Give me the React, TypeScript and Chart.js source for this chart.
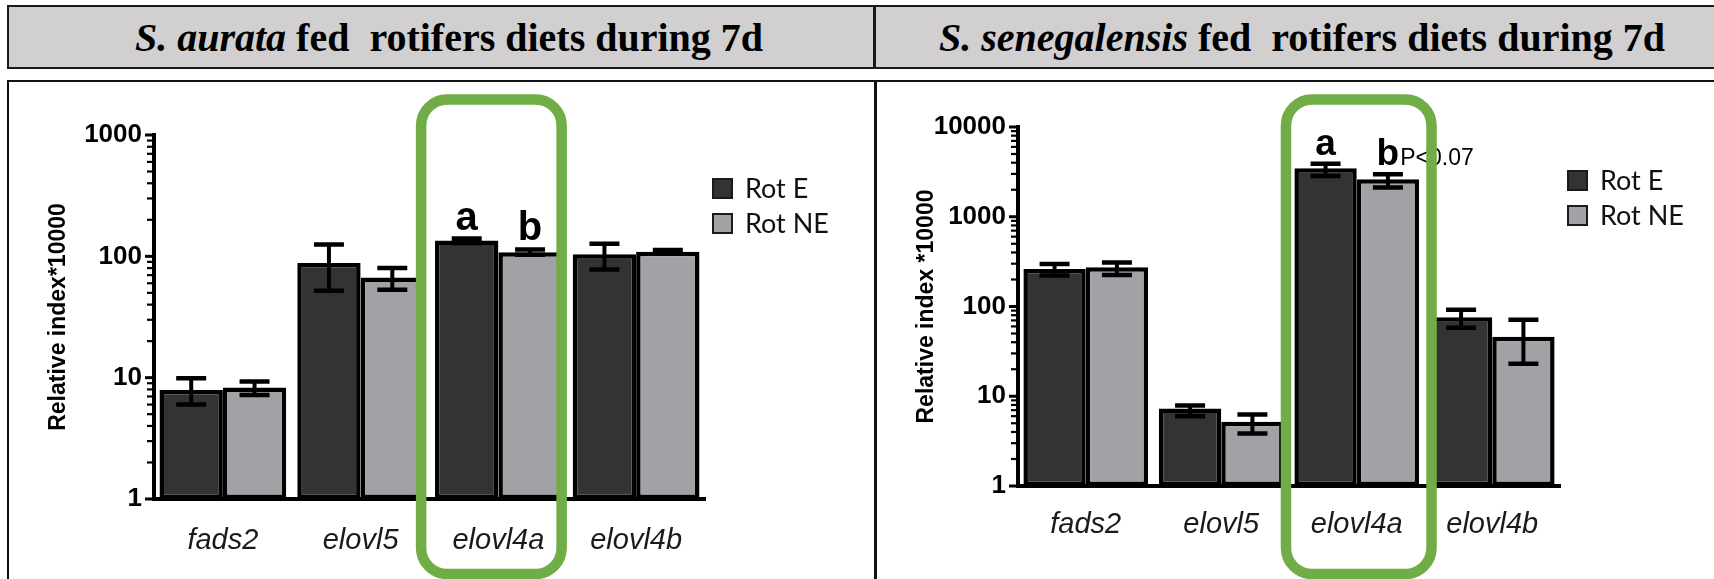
import React, { useEffect, useRef } from "react";
import { Chart, registerables } from "chart.js";

Chart.register(...registerables);

// ---------- data ----------
const categories = ["fads2", "elovl5", "elovl4a", "elovl4b"];
const seriesNames = ["Rot E", "Rot NE"];

// S. aurata
const aurataRotE = [7.9, 88, 135, 104];
const aurataRotELow = [6.0, 52, 129, 78];
const aurataRotEHigh = [9.9, 125, 140, 127];
const aurataRotNE = [8.3, 67, 108, 109];
const aurataRotNELow = [7.2, 53, 103, 105];
const aurataRotNEHigh = [9.3, 80, 114, 113];
const aurataTicks = [1, 10, 100, 1000];
const aurataMarksE = [null, null, "a", null];
const aurataMarksNE = [null, null, "b", null];
const aurataNotesNE = [null, null, null, null];

// S. senegalensis
const seneRotE = [262, 7.3, 3470, 76];
const seneRotELow = [221, 6.0, 2850, 58];
const seneRotEHigh = [298, 7.9, 3900, 92];
const seneRotNE = [273, 5.2, 2620, 46];
const seneRotNELow = [225, 3.85, 2120, 23];
const seneRotNEHigh = [310, 6.25, 2980, 71];
const seneTicks = [1, 10, 100, 1000, 10000];
const seneMarksE = [null, null, "a", null];
const seneMarksNE = [null, null, "b", null];
const seneNotesNE = [null, null, "P<0.07", null];

const FONT = "'Liberation Sans', Arial, sans-serif";
const DARK = "#333333";
const LIGHT = "#a2a2a6";
const GREEN = "#70ad47";

// ---------- plugins ----------
const logTicksPlugin = {
  id: "logTickMarks",
  afterDraw(chart: any, _a: any, o: any) {
    const s = chart.scales.y;
    const ctx = chart.ctx;
    const x0 = chart.chartArea.left;
    ctx.save();
    ctx.strokeStyle = "#000";
    s.ticks.forEach((t: any) => {
      const y = s.getPixelForValue(t.value);
      const major = o.majors.includes(t.value);
      ctx.lineWidth = major ? 3 : 2.2;
      ctx.beginPath();
      ctx.moveTo(x0 - 1, y);
      ctx.lineTo(x0 - (major ? 9 : 7), y);
      ctx.stroke();
    });
    ctx.restore();
  },
};

const errorBarPlugin = {
  id: "errorBars",
  afterDatasetsDraw(chart: any, _a: any, o: any) {
    const ctx = chart.ctx;
    const ys = chart.scales.y;
    chart.data.datasets.forEach((ds: any, di: number) => {
      const meta = chart.getDatasetMeta(di);
      meta.data.forEach((bar: any, i: number) => {
        const x = bar.x;
        const yl = ys.getPixelForValue(ds.errLow[i]);
        const yh = ys.getPixelForValue(ds.errHigh[i]);
        ctx.save();
        ctx.strokeStyle = "#000";
        ctx.lineWidth = o.stem;
        ctx.beginPath();
        ctx.moveTo(x, yl);
        ctx.lineTo(x, yh);
        ctx.stroke();
        ctx.lineWidth = o.capThick;
        ctx.beginPath();
        ctx.moveTo(x - o.cap / 2, yh);
        ctx.lineTo(x + o.cap / 2, yh);
        ctx.moveTo(x - o.cap / 2, yl);
        ctx.lineTo(x + o.cap / 2, yl);
        ctx.stroke();
        ctx.restore();
      });
    });
  },
};

const marksPlugin = {
  id: "sigMarks",
  afterDatasetsDraw(chart: any, _a: any, o: any) {
    const ctx = chart.ctx;
    const ys = chart.scales.y;
    chart.data.datasets.forEach((ds: any, di: number) => {
      const meta = chart.getDatasetMeta(di);
      meta.data.forEach((bar: any, i: number) => {
        const m = ds.marks ? ds.marks[i] : null;
        if (!m) return;
        const y = ys.getPixelForValue(ds.errHigh[i]) - o.gap;
        ctx.save();
        ctx.fillStyle = "#000";
        ctx.font = `bold ${o.size}px ${FONT}`;
        ctx.textAlign = "center";
        ctx.textBaseline = "alphabetic";
        ctx.fillText(m, bar.x, y);
        const note = ds.notes ? ds.notes[i] : null;
        if (note) {
          const w = ctx.measureText(m).width;
          ctx.font = `${o.noteSize}px ${FONT}`;
          ctx.textAlign = "left";
          ctx.fillText(note, bar.x + w / 2 + 1, y);
        }
        ctx.restore();
      });
    });
  },
};

const legendPlugin = {
  id: "sideLegend",
  afterDraw(chart: any, _a: any, o: any) {
    const ctx = chart.ctx;
    const { right, top } = chart.chartArea;
    chart.data.datasets.forEach((ds: any, i: number) => {
      const x = right + o.dx;
      const y = top + o.dy + i * o.gap;
      ctx.save();
      ctx.fillStyle = ds.backgroundColor;
      ctx.fillRect(x, y, 21, 21);
      ctx.strokeStyle = "#1a1a1a";
      ctx.lineWidth = 2;
      ctx.strokeRect(x + 1, y + 1, 19, 19);
      ctx.fillStyle = "#111";
      ctx.font = `${o.size}px Lato, 'Open Sans', sans-serif`;
      ctx.textAlign = "left";
      ctx.textBaseline = "middle";
      ctx.fillText(ds.label, x + 33, y + 11);
      ctx.restore();
    });
  },
};

const highlightPlugin = {
  id: "highlightBox",
  afterDraw(chart: any, _a: any, o: any) {
    const ctx = chart.ctx;
    const xs = chart.scales.x;
    const cw = (xs.right - xs.left) / chart.data.labels.length;
    const cx = xs.getPixelForValue(o.index) + o.dx;
    const half = cw * o.halfFrac;
    const top = o.top;
    const bottom = chart.height - o.bottomInset;
    ctx.save();
    ctx.strokeStyle = GREEN;
    ctx.lineWidth = o.width;
    ctx.beginPath();
    (ctx as any).roundRect(cx - half, top, half * 2, bottom - top, o.radius);
    ctx.stroke();
    ctx.restore();
  },
};

// ---------- chart panel ----------
type PanelProps = {
  width: number;
  height: number;
  rotE: number[];
  rotELow: number[];
  rotEHigh: number[];
  rotNE: number[];
  rotNELow: number[];
  rotNEHigh: number[];
  majors: number[];
  marksE: (string | null)[];
  marksNE: (string | null)[];
  notesNE: (string | null)[];
  yTitle: string;
  pad: { left: number; right: number; top: number; bottom: number };
  titlePad: number;
  xPad: number;
  markSize: number;
  hlDx: number;
  hlHalf: number;
};

function Panel(p: PanelProps) {
  const ref = useRef<HTMLCanvasElement>(null);
  useEffect(() => {
    if (!ref.current) return;
    const majors = p.majors;
    const chart = new Chart(ref.current, {
      type: "bar",
      data: {
        labels: categories,
        datasets: [
          {
            label: seriesNames[0],
            data: p.rotE,
            backgroundColor: DARK,
            borderColor: "#000",
            borderWidth: 4.5,
            borderSkipped: false,
            errLow: p.rotELow,
            errHigh: p.rotEHigh,
            marks: p.marksE,
          } as any,
          {
            label: seriesNames[1],
            data: p.rotNE,
            backgroundColor: LIGHT,
            borderColor: "#000",
            borderWidth: 4.5,
            borderSkipped: false,
            errLow: p.rotNELow,
            errHigh: p.rotNEHigh,
            marks: p.marksNE,
            notes: p.notesNE,
          } as any,
        ],
      },
      options: {
        responsive: false,
        animation: false,
        devicePixelRatio: 1,
        layout: { padding: p.pad },
        datasets: { bar: { categoryPercentage: 0.92, barPercentage: 1 } },
        plugins: {
          legend: { display: false },
          tooltip: { enabled: false },
          title: { display: false },
          logTickMarks: { majors },
          errorBars: { stem: 4, capThick: 4.5, cap: 30 },
          sigMarks: { size: p.markSize, gap: 9, noteSize: 23 },
          sideLegend: { dx: 7, dy: 43, gap: 35, size: 27 },
          highlightBox: {
            index: 2,
            dx: p.hlDx,
            halfFrac: p.hlHalf,
            top: 18.5,
            bottomInset: 5,
            width: 10.5,
            radius: 26,
          },
        } as any,
        scales: {
          x: {
            type: "category",
            grid: { display: false },
            border: { display: true, color: "#000", width: 4 },
            ticks: {
              color: "#1a1a1a",
              padding: p.xPad,
              font: { family: FONT, size: 29, style: "italic" },
              maxRotation: 0,
              autoSkip: false,
            },
            afterFit: (s: any) => {
              s.height = 60;
            },
          },
          y: {
            type: "logarithmic",
            min: majors[0],
            max: majors[majors.length - 1],
            grid: { display: false },
            border: { display: true, color: "#000", width: 4 },
            afterBuildTicks: (s: any) => {
              const out: any[] = [];
              majors.forEach((d, i) => {
                out.push({ value: d });
                if (i < majors.length - 1) {
                  for (let k = 2; k <= 9; k++) out.push({ value: d * k });
                }
              });
              s.ticks = out;
            },
            ticks: {
              autoSkip: false,
              color: "#000",
              padding: 4,
              font: { family: FONT, size: 26, weight: "bold" },
              callback: (v: any) => (majors.includes(Number(v)) ? String(v) : ""),
            },
            title: {
              display: true,
              text: p.yTitle,
              color: "#000",
              padding: { top: p.titlePad, bottom: 0 },
              font: { family: FONT, size: 23, weight: "bold" },
            },
            afterFit: (s: any) => {
              s.width = 120;
            },
          },
        },
      },
      plugins: [logTicksPlugin, errorBarPlugin, marksPlugin, legendPlugin, highlightPlugin],
    } as any);
    return () => chart.destroy();
  }, []);
  return <canvas ref={ref} width={p.width} height={p.height} style={{ display: "block" }} />;
}

const headerStyle: React.CSSProperties = {
  position: "absolute",
  top: 5,
  height: 64,
  boxSizing: "border-box",
  border: "2px solid #1a1a1a",
  background: "#d1cfcf",
  display: "flex",
  alignItems: "center",
  justifyContent: "center",
  fontFamily: "'Liberation Serif', 'Times New Roman', serif",
  fontWeight: "bold",
  fontSize: 40,
  color: "#000",
  whiteSpace: "pre",
};

export default function App() {
  return (
    <div
      style={{
        position: "fixed",
        left: 0,
        top: 0,
        width: 1714,
        height: 579,
        background: "#fff",
        overflow: "hidden",
      }}
    >
      <div style={{ ...headerStyle, left: 7, width: 868 }}>
        <span style={{ marginLeft: 16 }}>
          <i>S. aurata</i> fed  rotifers diets during 7d
        </span>
      </div>
      <div style={{ ...headerStyle, left: 874, width: 860 }}>
        <span style={{ marginLeft: -4 }}>
          <i>S. senegalensis</i> fed  rotifers diets during 7d
        </span>
      </div>
      {/* panel frames */}
      <div
        style={{
          position: "absolute",
          left: 7,
          top: 80,
          width: 1760,
          height: 600,
          boxSizing: "border-box",
          borderTop: "2.5px solid #111",
          borderLeft: "2.5px solid #111",
        }}
      />
      <div
        style={{
          position: "absolute",
          left: 874,
          top: 80,
          width: 3,
          height: 600,
          background: "#111",
        }}
      />
      <div style={{ position: "absolute", left: 7, top: 81 }}>
        <Panel
          width={868}
          height={498}
          rotE={aurataRotE}
          rotELow={aurataRotELow}
          rotEHigh={aurataRotEHigh}
          rotNE={aurataRotNE}
          rotNELow={aurataRotNELow}
          rotNEHigh={aurataRotNEHigh}
          majors={aurataTicks}
          marksE={aurataMarksE}
          marksNE={aurataMarksNE}
          notesNE={aurataNotesNE}
          yTitle="Relative index*10000"
          pad={{ left: 27, right: 170, top: 54, bottom: 20 }}
          titlePad={11}
          xPad={17}
          markSize={40}
          hlDx={-7}
          hlHalf={0.51}
        />
      </div>
      <div style={{ position: "absolute", left: 876, top: 81 }}>
        <Panel
          width={838}
          height={498}
          rotE={seneRotE}
          rotELow={seneRotELow}
          rotEHigh={seneRotEHigh}
          rotNE={seneRotNE}
          rotNELow={seneRotNELow}
          rotNEHigh={seneRotNEHigh}
          majors={seneTicks}
          marksE={seneMarksE}
          marksNE={seneMarksNE}
          notesNE={seneNotesNE}
          yTitle="Relative index *10000"
          pad={{ left: 22, right: 154, top: 46, bottom: 33 }}
          titlePad={15}
          xPad={14}
          markSize={37}
          hlDx={2}
          hlHalf={0.537}
        />
      </div>
    </div>
  );
}
